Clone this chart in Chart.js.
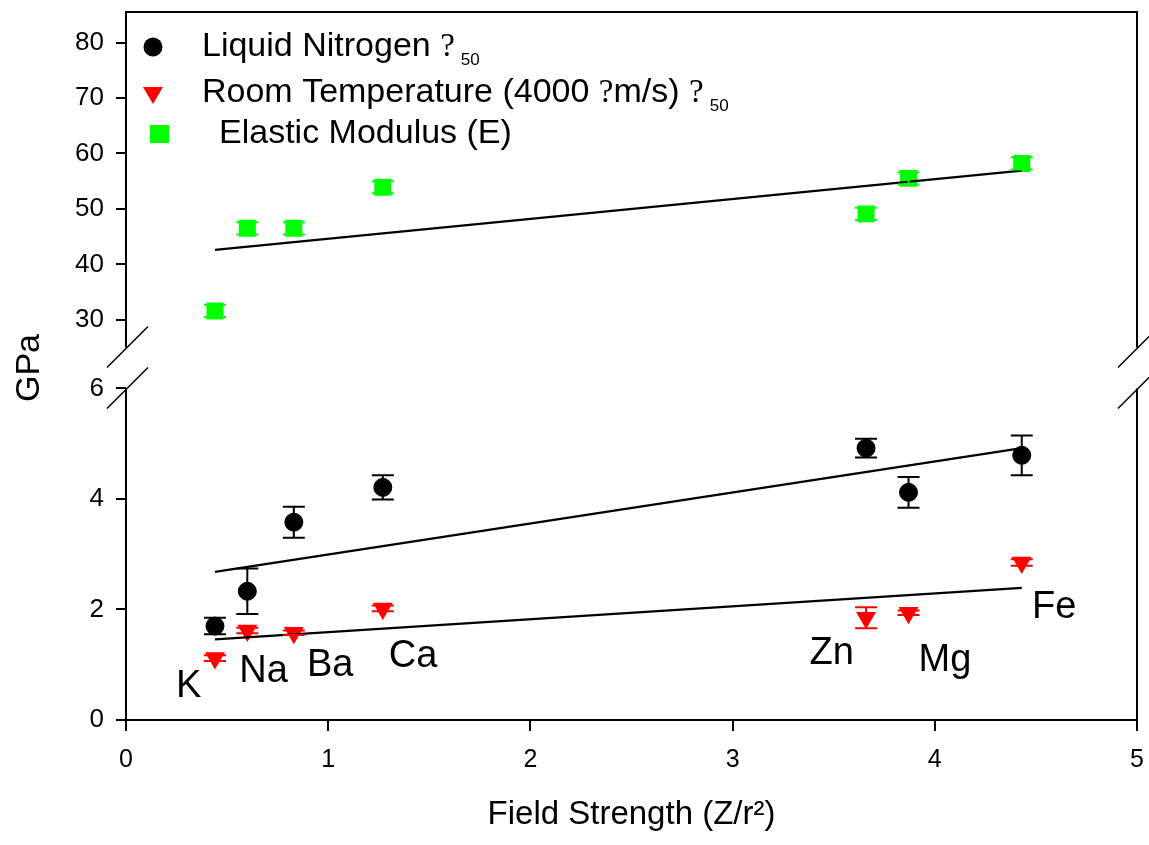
<!DOCTYPE html>
<html>
<head>
<meta charset="utf-8">
<script src="https://cdn.jsdelivr.net/npm/chart.js@4.4.1/dist/chart.umd.min.js"></script>
<style>
  html, body { margin: 0; padding: 0; background: #fff; }
  #wrap { width: 1149px; height: 845px; }
</style>
</head>
<body>
<div id="wrap"><canvas id="chart"></canvas></div>
<script>
// --- DATA ---
const elements = ["K", "Na", "Ba", "Ca", "Zn", "Mg", "Fe"];
const fieldStrength = [0.44, 0.60, 0.83, 1.27, 3.66, 3.87, 4.43];

const liquidNitrogen    = [1.70, 2.33, 3.58, 4.21, 4.92, 4.12, 4.79];
const liquidNitrogenErr = [0.15, 0.41, 0.28, 0.22, 0.17, 0.28, 0.36];

const roomTemp    = [1.12, 1.62, 1.58, 2.02, 1.85, 1.94, 2.85];
const roomTempErr = [0.05, 0.05, 0.04, 0.05, 0.19, 0.04, 0.06];

const elasticModulus    = [31.6, 46.5, 46.5, 53.9, 49.1, 55.5, 58.2];
const elasticModulusErr = [1.1, 1.1, 1.1, 1.1, 1.1, 1.1, 1.1];

// regression lines, read at both ends
const fitX  = [0.44, 4.43];
const lnFit = [2.68, 4.92];
const rtFit = [1.46, 2.39];
const emFit = [42.6, 56.9];

// element name anchors (lower axis units)
const labelX = [0.31, 0.68, 1.01, 1.42, 3.49, 4.05, 4.59];
const labelY = [0.60, 0.87, 0.99, 1.14, 1.21, 1.07, 2.04];

const xTicks     = [0, 1, 2, 3, 4, 5];
const lowerTicks = [0, 2, 4, 6];
const upperTicks = [30, 40, 50, 60, 70, 80];

const legendParts = [
  [["Liquid Nitrogen ", "sans"], ["?", "serif"], ["50", "sub"]],
  [["Room Temperature (4000 ", "sans"], ["?", "serif"], ["m/s) ", "sans"], ["?", "serif"], ["50", "sub"]],
  [["Elastic Modulus (E)", "sans"]]
];

const SANS = '"Liberation Sans", Arial, sans-serif';
const SERIF = '"Liberation Serif", "Times New Roman", serif';
const GREEN = '#00ff00';
const RED = '#ff0000';

const pts = vals => fieldStrength.map((x, i) => ({ x: x, y: vals[i] }));
const line = vals => fitX.map((x, i) => ({ x: x, y: vals[i] }));

// --- PLUGINS ---
const errorBars = {
  id: 'errorBars',
  afterDatasetsDraw(chart) {
    const ctx = chart.ctx;
    const xs = chart.scales.x;
    const sets = [
      { vals: liquidNitrogen, err: liquidNitrogenErr, axis: 'y', color: '#000' },
      { vals: roomTemp, err: roomTempErr, axis: 'y', color: RED },
      { vals: elasticModulus, err: elasticModulusErr, axis: 'yTop', color: GREEN }
    ];
    ctx.save();
    ctx.lineWidth = 2;
    sets.forEach(s => {
      const ys = chart.scales[s.axis];
      ctx.strokeStyle = s.color;
      fieldStrength.forEach((fx, i) => {
        const px = xs.getPixelForValue(fx);
        const top = ys.getPixelForValue(s.vals[i] + s.err[i]);
        const bot = ys.getPixelForValue(s.vals[i] - s.err[i]);
        ctx.beginPath();
        ctx.moveTo(px, top); ctx.lineTo(px, bot);
        ctx.moveTo(px - 11, top); ctx.lineTo(px + 11, top);
        ctx.moveTo(px - 11, bot); ctx.lineTo(px + 11, bot);
        ctx.stroke();
      });
    });
    ctx.restore();
  }
};

const frame = {
  id: 'frame',
  afterDraw(chart) {
    const { ctx, chartArea: a, scales } = chart;
    const breakTop = scales.yTop.bottom;
    const breakBot = scales.y.top;
    ctx.save();
    ctx.strokeStyle = '#000';
    ctx.lineWidth = 2;
    ctx.beginPath();
    ctx.moveTo(a.left - 1, a.top); ctx.lineTo(a.right + 1, a.top);
    [a.left, a.right].forEach(x => {
      ctx.moveTo(x, a.top); ctx.lineTo(x, breakTop);
      ctx.moveTo(x, breakBot); ctx.lineTo(x, a.bottom);
    });
    ctx.stroke();
    ctx.lineWidth = 1.5;
    ctx.beginPath();
    [a.left, a.right].forEach(x => {
      [breakTop, breakBot].forEach(y => {
        ctx.moveTo(x - 19, y + 20); ctx.lineTo(x + 22, y - 21);
      });
    });
    ctx.stroke();
    ctx.restore();
  }
};

const elementLabels = {
  id: 'elementLabels',
  afterDraw(chart) {
    const { ctx, scales } = chart;
    ctx.save();
    ctx.fillStyle = '#000';
    ctx.font = '38px ' + SANS;
    ctx.textAlign = 'center';
    ctx.textBaseline = 'middle';
    elements.forEach((name, i) => {
      ctx.fillText(name, scales.x.getPixelForValue(labelX[i]), scales.y.getPixelForValue(labelY[i]));
    });
    ctx.restore();
  }
};

const insideLegend = {
  id: 'insideLegend',
  afterDraw(chart) {
    const ctx = chart.ctx;
    const left = chart.chartArea.left;
    const rows = [
      { mx: left + 27, my: 47, tx: left + 76, ty: 56 },
      { mx: left + 27, my: 95, tx: left + 76, ty: 102 },
      { mx: left + 33, my: 134, tx: left + 93, ty: 143 }
    ];
    ctx.save();
    // markers
    ctx.fillStyle = '#000';
    ctx.beginPath(); ctx.arc(rows[0].mx, rows[0].my, 9.5, 0, Math.PI * 2); ctx.fill();
    ctx.fillStyle = RED;
    ctx.beginPath();
    ctx.moveTo(rows[1].mx - 10, rows[1].my - 8);
    ctx.lineTo(rows[1].mx + 10, rows[1].my - 8);
    ctx.lineTo(rows[1].mx, rows[1].my + 9);
    ctx.closePath(); ctx.fill();
    ctx.fillStyle = GREEN;
    ctx.fillRect(rows[2].mx - 9, rows[2].my - 9, 19, 18);
    // texts
    ctx.fillStyle = '#000';
    ctx.textAlign = 'left';
    ctx.textBaseline = 'alphabetic';
    legendParts.forEach((parts, r) => {
      let x = rows[r].tx;
      parts.forEach(([txt, kind], k) => {
        let y = rows[r].ty;
        if (kind === 'sans') ctx.font = '34px ' + SANS;
        else if (kind === 'serif') ctx.font = '33px ' + SERIF;
        else { ctx.font = '17px ' + SANS; y += 9; }
        ctx.fillText(txt, x, y);
        x += ctx.measureText(txt).width;
        if (kind === 'serif' && parts[k + 1] && parts[k + 1][1] === 'sub') x += 6;
      });
    });
    ctx.restore();
  }
};

// --- CHART ---
const tickGrid = { drawOnChartArea: false, drawTicks: true, tickLength: 10, color: '#000', lineWidth: 2 };
const noPad = s => { s.paddingTop = 0; s.paddingBottom = 0; s.paddingLeft = 0; s.paddingRight = 0; };

new Chart(document.getElementById('chart'), {
  type: 'scatter',
  data: {
    datasets: [
      { data: line(emFit), yAxisID: 'yTop', showLine: true, pointRadius: 0, borderColor: '#000', borderWidth: 2.2 },
      { data: line(lnFit), yAxisID: 'y', showLine: true, pointRadius: 0, borderColor: '#000', borderWidth: 2.2 },
      { data: line(rtFit), yAxisID: 'y', showLine: true, pointRadius: 0, borderColor: '#000', borderWidth: 2.2 },
      {
        label: 'Liquid Nitrogen', data: pts(liquidNitrogen), yAxisID: 'y',
        pointStyle: 'circle', pointRadius: 9, backgroundColor: '#000', borderColor: '#000', borderWidth: 1
      },
      {
        label: 'Room Temperature', data: pts(roomTemp), yAxisID: 'y',
        pointStyle: 'triangle', rotation: 180, pointRadius: 11.5, backgroundColor: RED, borderColor: RED, borderWidth: 0
      },
      {
        label: 'Elastic Modulus (E)', data: pts(elasticModulus), yAxisID: 'yTop',
        pointStyle: 'rect', pointRadius: 12, backgroundColor: GREEN, borderColor: GREEN, borderWidth: 0
      }
    ]
  },
  options: {
    responsive: true,
    maintainAspectRatio: false,
    animation: false,
    layout: { padding: { top: 10, right: 4, left: 0, bottom: 0 } },
    plugins: { legend: { display: false }, tooltip: { enabled: false } },
    scales: {
      x: {
        type: 'linear', position: 'bottom', min: 0, max: 5,
        afterBuildTicks: s => { s.ticks = xTicks.map(v => ({ value: v })); },
        afterFit: s => { s.height = 125; noPad(s); },
        ticks: { color: '#000', font: { size: 25, family: SANS }, padding: 14 },
        grid: Object.assign({}, tickGrid, { tickLength: 11 }),
        border: { display: true, color: '#000', width: 2 },
        title: {
          display: true, text: 'Field Strength (Z/r²)', color: '#000',
          font: { size: 33, family: SANS }, padding: { top: 0, bottom: 10 }
        }
      },
      y: {
        type: 'linear', position: 'left', stack: 'gpa', stackWeight: 332, min: 0, max: 6,
        afterBuildTicks: s => { s.ticks = lowerTicks.map(v => ({ value: v })); },
        afterFit: s => { s.width = 126; noPad(s); },
        ticks: { color: '#000', font: { size: 26, family: SANS }, padding: 12 },
        grid: tickGrid,
        border: { display: false }
      },
      yGap: {
        type: 'linear', position: 'left', stack: 'gpa', stackWeight: 41, min: 0, max: 1,
        afterFit: s => { s.width = 126; noPad(s); },
        ticks: { display: false },
        grid: { display: false },
        border: { display: false },
        title: {
          display: true, text: 'GPa', color: '#000',
          font: { size: 34, family: SANS }, padding: { top: 9, bottom: 0 }
        }
      },
      yTop: {
        type: 'linear', position: 'left', stack: 'gpa', stackWeight: 336, min: 25, max: 85.5,
        afterBuildTicks: s => { s.ticks = upperTicks.map(v => ({ value: v })); },
        afterFit: s => { s.width = 126; noPad(s); },
        ticks: { color: '#000', font: { size: 26, family: SANS }, padding: 12 },
        grid: tickGrid,
        border: { display: false }
      }
    }
  },
  plugins: [errorBars, frame, elementLabels, insideLegend]
});
</script>
</body>
</html>
